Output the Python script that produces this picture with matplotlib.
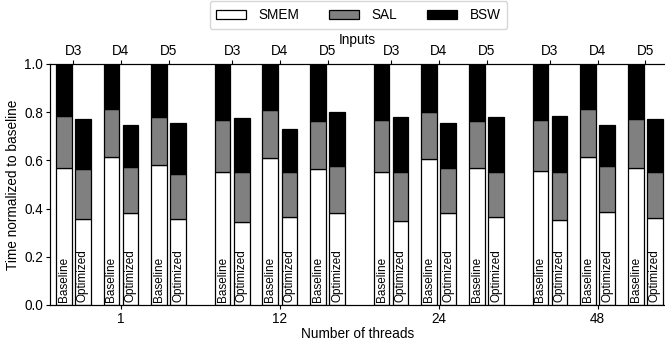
import matplotlib.pyplot as plt
import numpy as np

plt.rcParams['font.family'] = ['Liberation Sans', 'DejaVu Sans']

threads = ["1", "12", "24", "48"]
inputs = ["D3", "D4", "D5"]

# 每组: D3, D4, D5 (baseline)
base_smem = [0.568, 0.615, 0.580,
             0.551, 0.610, 0.566,
             0.553, 0.607, 0.567,
             0.555, 0.613, 0.570]
base_sal = [0.218, 0.200, 0.200,
            0.217, 0.199, 0.199,
            0.213, 0.195, 0.198,
            0.211, 0.200, 0.200]
base_bsw = [0.214, 0.185, 0.220,
            0.232, 0.191, 0.235,
            0.234, 0.198, 0.235,
            0.234, 0.187, 0.230]

# optimized
opt_smem = [0.357, 0.383, 0.356,
            0.346, 0.366, 0.382,
            0.349, 0.380, 0.364,
            0.351, 0.385, 0.360]
opt_sal = [0.209, 0.188, 0.188,
           0.207, 0.185, 0.195,
           0.204, 0.190, 0.189,
           0.202, 0.192, 0.193]
opt_bsw = [0.206, 0.176, 0.213,
           0.222, 0.179, 0.223,
           0.227, 0.187, 0.226,
           0.233, 0.170, 0.217]

group_gap = 3.33
x = np.array([g*group_gap + i for g in range(len(threads)) for i in range(len(inputs))])
w = 0.33
off = 0.2
fs = 9.8

fig = plt.figure(figsize=(6.65, 3.44), dpi=100)
ax = fig.add_axes([0.075, 0.1134, 0.925, 0.7006])

bs = np.array(base_smem); ba = np.array(base_sal); bb = np.array(base_bsw)
os_ = np.array(opt_smem); oa = np.array(opt_sal); ob = np.array(opt_bsw)

kw = dict(width=w, edgecolor='black', linewidth=0.9)
l1 = ax.bar(x-off, bs, color='white', **kw)
l2 = ax.bar(x-off, ba, bottom=bs, color='#808080', **kw)
l3 = ax.bar(x-off, bb, bottom=bs+ba, color='black', **kw)
ax.bar(x+off, os_, color='white', **kw)
ax.bar(x+off, oa, bottom=os_, color='#808080', **kw)
ax.bar(x+off, ob, bottom=os_+oa, color='black', **kw)

for xi in x:
    ax.text(xi-off, 0.012, "Baseline", rotation=90, ha='center', va='bottom', fontsize=8.5)
    ax.text(xi+off, 0.012, "Optimized", rotation=90, ha='center', va='bottom', fontsize=8.5)

ax.set_xlim(-0.49, 12.4)
ax.set_ylim(0, 1.0)
ax.set_yticks(np.arange(0, 1.01, 0.2))
ax.set_yticklabels(["%.1f" % v for v in np.arange(0, 1.01, 0.2)])
ax.set_xticks([g*group_gap + 1 for g in range(len(threads))])
ax.set_xticklabels(threads)
ax.tick_params(labelsize=fs, length=3, pad=2)
ax.set_ylabel("Time normalized to baseline", fontsize=fs, labelpad=3)
ax.set_xlabel("Number of threads", fontsize=fs, labelpad=1)
ax.spines['right'].set_visible(False)

ax2 = ax.twiny()
ax2.set_xlim(ax.get_xlim())
ax2.set_xticks(x)
ax2.set_xticklabels(inputs*len(threads))
ax2.tick_params(labelsize=fs, length=3, pad=1)
ax2.set_xlabel("Inputs", fontsize=fs, labelpad=0)
ax2.spines['right'].set_visible(False)

fig.legend(handles=[l1, l2, l3], labels=["SMEM", "SAL", "BSW"], loc='upper center',
           bbox_to_anchor=(0.539, 1.016), ncol=3, fontsize=fs, handlelength=2.2,
           handleheight=0.7, handletextpad=0.9, columnspacing=2.2, borderpad=0.5,
           frameon=True)

fig.savefig("out.png", dpi=100)
